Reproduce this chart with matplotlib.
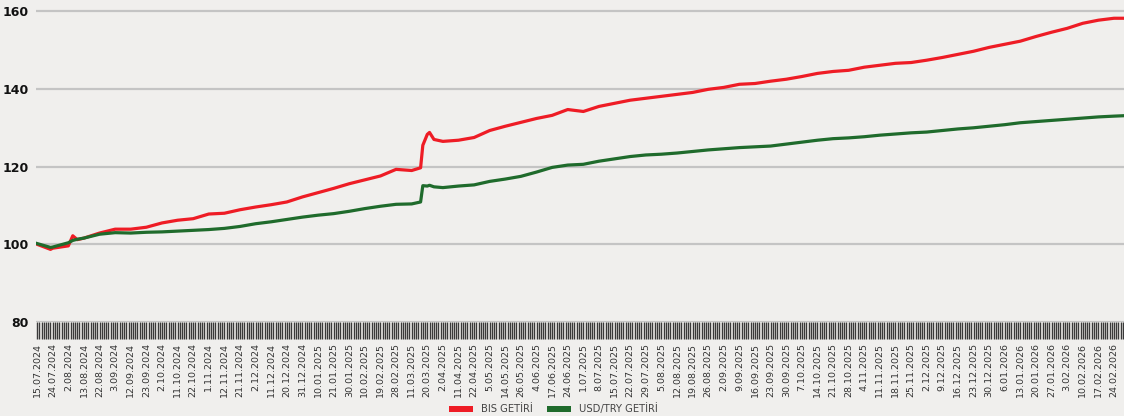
import numpy as np
import matplotlib
matplotlib.use("Agg")
import matplotlib.pyplot as plt
from matplotlib.patches import Patch

# --- data -------------------------------------------------------------------
# trading-day number of each sampled point (7 trading days between labels)
days = [0, 6, 7, 14, 16, 18, 21, 28, 35, 42, 49, 56, 63, 70, 77, 84, 91, 98,
        105, 112, 119, 126, 133, 140, 147, 154, 161, 168, 172, 173, 175, 176,
        178, 182, 189, 196, 203, 210, 217, 224, 231, 238, 245, 252, 259, 266,
        273, 280, 287, 294, 301, 308, 315, 322, 329, 336, 343, 350, 357, 364,
        371, 378, 385, 392, 399, 406, 413, 420, 427, 434, 441, 448, 455, 462,
        469, 476, 483, 487]

bis = [100.0, 98.7, 99.0, 99.6, 102.2, 101.2, 101.6, 102.9, 103.9, 103.9,
       104.4, 105.5, 106.2, 106.6, 107.8, 108.0, 108.9, 109.6, 110.2, 110.9,
       112.2, 113.3, 114.4, 115.6, 116.6, 117.6, 119.3, 119.0, 119.7, 125.5,
       128.3, 128.8, 127.0, 126.5, 126.8, 127.5, 129.3, 130.4, 131.4, 132.4,
       133.2, 134.7, 134.2, 135.5, 136.3, 137.1, 137.6, 138.1, 138.6, 139.1,
       139.9, 140.4, 141.2, 141.4, 142.0, 142.5, 143.2, 144.0, 144.5, 144.8,
       145.6, 146.1, 146.6, 146.8, 147.4, 148.1, 148.9, 149.7, 150.7, 151.5,
       152.3, 153.5, 154.6, 155.6, 156.9, 157.7, 158.2, 158.2]

usd = [100.2, 99.2, 99.3, 100.4, 101.0, 101.3, 101.6, 102.6, 103.0, 102.9,
       103.1, 103.2, 103.4, 103.6, 103.8, 104.1, 104.6, 105.3, 105.8, 106.4,
       107.0, 107.5, 107.9, 108.5, 109.2, 109.8, 110.3, 110.4, 110.9, 115.1,
       115.0, 115.2, 114.8, 114.6, 115.0, 115.3, 116.2, 116.8, 117.5, 118.6,
       119.8, 120.4, 120.6, 121.4, 122.0, 122.6, 123.0, 123.2, 123.5, 123.9,
       124.3, 124.6, 124.9, 125.1, 125.3, 125.8, 126.3, 126.8, 127.2, 127.4,
       127.7, 128.1, 128.4, 128.7, 128.9, 129.3, 129.7, 130.0, 130.4, 130.8,
       131.3, 131.6, 131.9, 132.2, 132.5, 132.8, 133.0, 133.1]

date_labels = [
    "15.07.2024", "24.07.2024", "2.08.2024", "13.08.2024", "22.08.2024",
    "3.09.2024", "12.09.2024", "23.09.2024", "2.10.2024", "11.10.2024",
    "22.10.2024", "1.11.2024", "12.11.2024", "21.11.2024", "2.12.2024",
    "11.12.2024", "20.12.2024", "31.12.2024", "10.01.2025", "21.01.2025",
    "30.01.2025", "10.02.2025", "19.02.2025", "28.02.2025", "11.03.2025",
    "20.03.2025", "2.04.2025", "11.04.2025", "22.04.2025", "5.05.2025",
    "14.05.2025", "26.05.2025", "4.06.2025", "17.06.2025", "24.06.2025",
    "1.07.2025", "8.07.2025", "15.07.2025", "22.07.2025", "29.07.2025",
    "5.08.2025", "12.08.2025", "19.08.2025", "26.08.2025", "2.09.2025",
    "9.09.2025", "16.09.2025", "23.09.2025", "30.09.2025", "7.10.2025",
    "14.10.2025", "21.10.2025", "28.10.2025", "4.11.2025", "11.11.2025",
    "18.11.2025", "25.11.2025", "2.12.2025", "9.12.2025", "16.12.2025",
    "23.12.2025", "30.12.2025", "6.01.2026", "13.01.2026", "20.01.2026",
    "27.01.2026", "3.02.2026", "10.02.2026", "17.02.2026", "24.02.2026",
]
n_days = 488
label_step = 7

# --- style ------------------------------------------------------------------
BG = "#f0efed"
RED = "#ee1c25"
GREEN = "#1f6b2c"

fig = plt.figure(figsize=(11.24, 4.16), dpi=100, facecolor=BG)
ax = fig.add_axes([36 / 1124, 94 / 416, 1 - 36 / 1124, 322 / 416])
ax.set_facecolor(BG)

ax.plot(days, bis, color=RED, lw=2.3, solid_joinstyle="round", zorder=3)
ax.plot(days, usd, color=GREEN, lw=2.3, solid_joinstyle="round", zorder=3)

ax.set_xlim(-0.5, n_days - 0.5)
ax.set_ylim(80, 162.9)

# y axis
ax.set_yticks([80, 100, 120, 140, 160])
ax.tick_params(axis="y", length=0, pad=5, labelsize=9)
for lab in ax.get_yticklabels():
    lab.set_fontweight("bold")
    lab.set_color("#111111")
ax.yaxis.grid(True, color="#c4c4c4", lw=1.6)
ax.set_axisbelow(True)

# x axis: a tick for every trading day, label every 7th
ax.set_xticks(np.arange(len(date_labels)) * label_step)
ax.set_xticklabels(date_labels, rotation=90, fontsize=6.8, color="#333333")
ax.set_xticks(np.arange(n_days), minor=True)
ax.tick_params(axis="x", which="both", length=12, width=1.0,
               color="#3a3a3a", pad=3)

for s in ax.spines.values():
    s.set_visible(False)

handles = [Patch(facecolor=RED, label="BIS GETİRİ"),
           Patch(facecolor=GREEN, label="USD/TRY GETİRİ")]
fig.legend(handles=handles, loc="upper center", bbox_to_anchor=(0.492, 0.052),
           ncol=2, frameon=False, fontsize=7.2, handlelength=2.4,
           handleheight=0.6, handletextpad=0.8, columnspacing=1.4,
           labelcolor="#444444")

fig.savefig("out.png", dpi=100, facecolor=BG)
